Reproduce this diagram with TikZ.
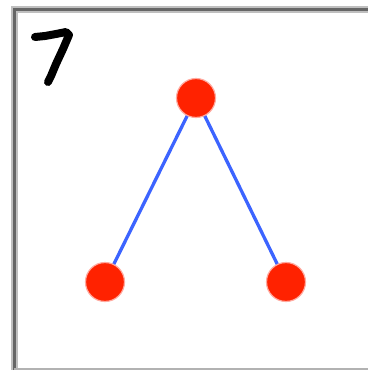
\documentclass[tikz,border=0pt]{standalone}
\pgfdeclarelayer{background}
\pgfsetlayers{background,main}
\begin{document}
\begin{tikzpicture}[x=1pt,y=-1pt,
  dot/.style={circle,fill={rgb,255:red,255;green,34;blue,0},draw={rgb,255:red,255;green,170;blue,160},line width=1.2pt,minimum size=39pt,inner sep=0pt},
  edge/.style={draw={rgb,255:red,60;green,100;blue,255},line width=3.3pt},
  frame/.style={draw=black!60,line width=3pt},
  ink/.style={draw=black,line width=8pt,line cap=round,line join=round}]
\useasboundingbox (0,0) rectangle (368,370);
% frame
\draw[draw=black!25,line width=7pt] (14.5,370) -- (14.5,9.5) -- (368,9.5);
\draw[frame] (14.5,370) -- (14.5,9.5) -- (368,9.5);
\draw[draw=black!30,line width=2pt] (14,369) -- (368,369);
% handwritten 7
\draw[ink] (35,37) -- (45,36) -- (56,34) -- (66,32) -- (69,35) -- (63,49) -- (56,64) -- (51,76) -- (48,82);
% graph
\node[dot] (t) at (196,98) {};
\node[dot] (l) at (105,282) {};
\node[dot] (r) at (286,282) {};
\begin{pgfonlayer}{background}
\fill[white] (0,0) rectangle (368,370);
\draw[edge] (t.center) -- (l.center);
\draw[edge] (t.center) -- (r.center);
\end{pgfonlayer}
\end{tikzpicture}
\end{document}
